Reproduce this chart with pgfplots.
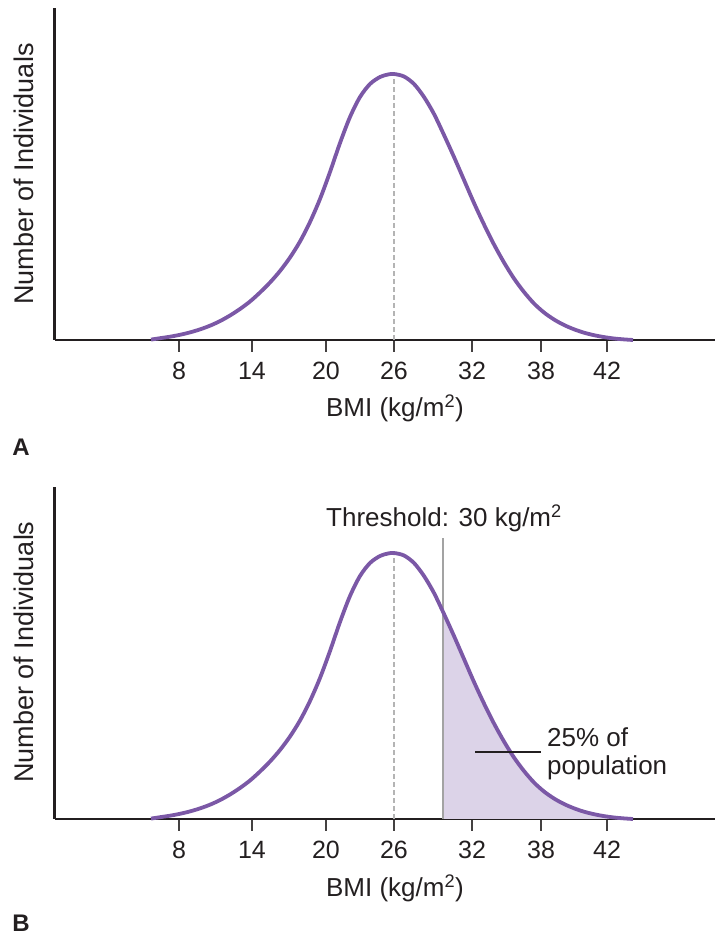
\documentclass[border=0pt]{standalone}
\usepackage{pgfplots}
\pgfplotsset{compat=1.18}
\usepackage{pgfplotstable}
\usepackage{fontspec}
\setmainfont{Liberation Sans}
\definecolor{curvec}{HTML}{7B58A6}
\definecolor{shadec}{HTML}{DCD3E8}
\definecolor{axisc}{HTML}{231F20}
\definecolor{thrc}{HTML}{A3A3A3}
\definecolor{dashc}{HTML}{B4B4B4}

\pgfplotstableread{
x h
151 0.4
160 1.8
170 3.3
180 5.2
190 7.6
200 10.6
210 14.3
220 18.9
230 24.5
240 31
250 38.5
260 47.5
270 57.5
280 69
290 82.5
300 98.5
310 118
320 141
330 168
340 197
350 223
360 243
370 256
380 263
388 265.5
394 266
404 263.5
414 256
424 243
434 226
444 205
454 183
464 160
474 137
484 115.5
494 95.5
504 77.5
514 61.5
524 48
534 36.5
544 27.5
554 20.5
564 15
574 10.7
584 7.3
594 4.8
604 2.9
614 1.5
624 0.6
633 0
}\curvedata

\pgfplotstableread{
x h
443 0
443 207
444 205
454 183
464 160
474 137
484 115.5
494 95.5
504 77.5
514 61.5
524 48
534 36.5
544 27.5
554 20.5
564 15
574 10.7
584 7.3
594 4.8
604 2.9
614 1.5
624 0.6
633 0
}\shadedata

\pgfplotsset{bmi/.style={
  scale only axis, width=660.5pt, height=332pt,
  xmin=54.5, xmax=715, ymin=0, ymax=332,
  axis x line=bottom, axis y line=left,
  axis line style={-, line width=2.6pt, color=axisc},
  xtick={179,252,326,394,472,541,607},
  xticklabels={8,14,20,26,32,38,42},
  ytick=\empty,
  tick align=outside, major tick length=12pt,
  tick style={line width=1.3pt, color=axisc!85},
  xticklabel style={font=\fontsize{25}{30}\selectfont, text=axisc, yshift=-7pt},
  /pgf/number format/assume math mode=true,
  clip=false, anchor=south west,
}}

\begin{document}
\begin{tikzpicture}
\path[use as bounding box] (0,0) rectangle (715pt,935pt);

% Panel A
\begin{axis}[bmi, at={(54.5pt,595pt)}]
\addplot[dashc, line width=1.2pt, dash pattern=on 5pt off 3pt] coordinates {(394,0) (394,266)};
\addplot[curvec, line width=3.8pt, smooth] table[x=x,y=h] {\curvedata};
\end{axis}

% Panel B
\begin{axis}[bmi, at={(54.5pt,116pt)}]
\addplot[fill=shadec, draw=none] table[x=x,y=h] {\shadedata} -- cycle;
\addplot[dashc, line width=1.2pt, dash pattern=on 5pt off 3pt] coordinates {(394,0) (394,264)};
\addplot[thrc, line width=1.3pt] coordinates {(443,0) (443,281)};
\addplot[curvec, line width=3.8pt, smooth] table[x=x,y=h] {\curvedata};
\addplot[axisc, line width=1.3pt] coordinates {(475,67) (541,67)};
\node[anchor=west, align=left, text=axisc, font=\fontsize{26}{28}\selectfont, inner sep=0pt] at (axis cs:547,65) {25\% of\\population};
\node[text=axisc, font=\fontsize{26}{30}\selectfont, inner sep=0pt] at (axis cs:444,301) {Threshold: 30 kg/m\textsuperscript{2}};
\end{axis}

% labels
\node[rotate=90, text=axisc, font=\fontsize{27}{30}\selectfont] at (24pt,761pt) {Number of Individuals};
\node[rotate=90, text=axisc, font=\fontsize{27}{30}\selectfont] at (24pt,283pt) {Number of Individuals};
\node[text=axisc, font=\fontsize{26}{30}\selectfont] at (395pt,527pt) {BMI (kg/m\textsuperscript{2})};
\node[text=axisc, font=\fontsize{26}{30}\selectfont] at (395pt,47pt) {BMI (kg/m\textsuperscript{2})};
\node[text=axisc, font=\fontsize{24}{28}\selectfont\bfseries] at (21pt,488pt) {A};
\node[text=axisc, font=\fontsize{24}{28}\selectfont\bfseries] at (21pt,12pt) {B};
\end{tikzpicture}
\end{document}
